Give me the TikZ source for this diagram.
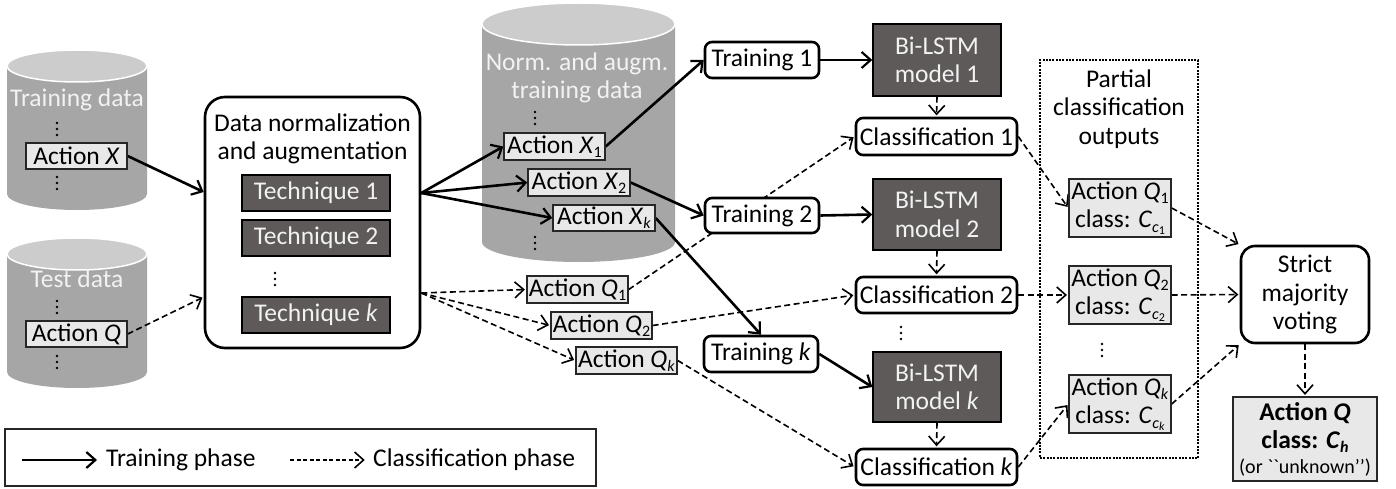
\documentclass[tikz,border=0pt]{standalone}
\usepackage{fontspec}
\setmainfont{Carlito}
\newfontfamily\rawfont{Carlito}
\usetikzlibrary{arrows.meta}
\definecolor{cylbody}{RGB}{166,166,166}
\definecolor{cyltop}{RGB}{204,204,204}
\definecolor{darkfill}{RGB}{94,90,90}
\definecolor{lightfill}{RGB}{232,232,232}
\definecolor{softwhite}{RGB}{242,242,242}
\newcommand\sbs[1]{\raisebox{-0.35ex}{\fontsize{16}{16}\selectfont #1}}
\newcommand\ssbs[1]{\raisebox{-0.3ex}{\fontsize{12}{12}\selectfont #1}}
\pgfdeclarelayer{edgelayer}
\pgfdeclarelayer{cyllayer}
\pgfsetlayers{cyllayer,edgelayer,main}
\tikzset{
  every node/.style={font=\fontsize{25.5}{28.5}\selectfont, inner sep=0pt},
  rbox/.style={draw=black, line width=2.6pt, fill=white, rounded corners=7pt, align=center},
  dbox/.style={draw=black, line width=1.4pt, fill=darkfill, text=softwhite, align=center},
  lbox/.style={draw=black!85, line width=1.4pt, fill=lightfill, align=center},
  cyltext/.style={text=softwhite, align=center},
  train/.style={line width=2.6pt, -{Straight Barb[length=9pt,width=16pt,line width=2.2pt]}},
  cls/.style={line width=1.6pt, dash pattern=on 6pt off 3.5pt, -{Straight Barb[length=9pt,width=16pt,line width=1.6pt,sep]}},
}
\newcommand\vd[2]{\foreach \dy in {-6,0,6} \fill (#1,#2+\dy) circle (1.4pt);}
\begin{document}
\begin{tikzpicture}[x=1pt,y=-1pt]
\useasboundingbox (0,0) rectangle (1396,489);

% ---------- cylinders ----------
\begin{pgfonlayer}{cyllayer}
\fill[cylbody] (7,66) -- (7,194) arc[start angle=180,end angle=360,x radius=70pt,y radius=16pt] -- (147,66) -- cycle;
\fill[cyltop, draw=white, line width=1.5pt] (77,66) ellipse[x radius=70pt,y radius=16pt];
\fill[cylbody] (7,254) -- (7,372) arc[start angle=180,end angle=360,x radius=70pt,y radius=16pt] -- (147,254) -- cycle;
\fill[cyltop, draw=white, line width=1.5pt] (77,254) ellipse[x radius=70pt,y radius=16pt];
\fill[cylbody] (482,24) -- (482,242) arc[start angle=180,end angle=360,x radius=96.5pt,y radius=20pt] -- (675,24) -- cycle;
\fill[cyltop, draw=white, line width=1.5pt] (578.5,24) ellipse[x radius=96.5pt,y radius=21pt];
\end{pgfonlayer}

\node[cyltext] (ctrain) at (77,100) {Training data};
\node[cyltext] (ctest) at (77,279) {Test data};
\node[cyltext] (cnorm) at (577,78) {Norm. and augm.\\training data};
\vd{57}{129}\vd{57}{183}\vd{57}{307}\vd{57}{362}
\vd{535}{118}\vd{535}{243}

% ---------- left ----------
\node[lbox, minimum width=101pt, minimum height=26pt] (ax) at (76.5,156) {Action \textit{X}};
\node[lbox, minimum width=101pt, minimum height=26pt] (aq) at (76.5,334) {Action \textit{Q}};

\node[rbox, rounded corners=20pt, minimum width=215pt, minimum height=251pt] (dn) at (312.5,222.5) {};
\node (dntitle) at (312.5,139) [align=center] {Data normalization\\and augmentation};
\node[dbox, minimum width=148pt, minimum height=36pt] (t1) at (316,193) {Technique 1};
\node[dbox, minimum width=148pt, minimum height=36pt] (t2) at (316,238) {Technique 2};
\node[dbox, minimum width=148pt, minimum height=36pt] (tk) at (316,315) {Technique \textit{k}};
\vd{275}{279}

% ---------- augmented ----------
\node[lbox, minimum width=101pt, minimum height=27pt] (x1) at (554.5,146.5) {Action \textit{X}\sbs{1}};
\node[lbox, minimum width=102pt, minimum height=27pt] (x2) at (579,182.5) {Action \textit{X}\sbs{2}};
\node[lbox, minimum width=102pt, minimum height=26pt] (xk) at (604,218) {Action \textit{X}\sbs{\textit{k}}};
\node[lbox, minimum width=101pt, minimum height=27pt] (q1) at (577.5,289.5) {Action \textit{Q}\sbs{1}};
\node[lbox, minimum width=101pt, minimum height=27pt] (q2) at (601.5,325.5) {Action \textit{Q}\sbs{2}};
\node[lbox, minimum width=101pt, minimum height=27pt] (qk) at (626.5,360.5) {Action \textit{Q}\sbs{\textit{k}}};

% ---------- training ----------
\node[rbox, minimum width=114pt, minimum height=36pt] (tr1) at (762,60) {Training 1};
\node[rbox, minimum width=114pt, minimum height=35pt] (tr2) at (762,215.5) {Training 2};
\node[rbox, minimum width=114pt, minimum height=36pt] (trk) at (761,354) {Training \textit{k}};

\node[dbox, minimum width=128pt, minimum height=72pt] (bl1) at (937,60) {Bi-LSTM\\model 1};
\node[dbox, minimum width=128pt, minimum height=71pt] (bl2) at (937,214.5) {Bi-LSTM\\model 2};
\node[dbox, minimum width=128pt, minimum height=70pt] (blk) at (937,387) {Bi-LSTM\\model \textit{k}};

\node[rbox, minimum width=161pt, minimum height=37pt] (c1) at (936.5,136.5) {Classification 1};
\node[rbox, minimum width=161pt, minimum height=36pt] (c2) at (936.5,295) {Classification 2};
\node[rbox, minimum width=161pt, minimum height=36pt] (ck) at (936.5,467) {Classification \textit{k}};
\vd{901}{333}

% ---------- partial outputs ----------
\node[draw=black, line width=2pt, dash pattern=on 2pt off 1.3pt, minimum width=158pt, minimum height=398pt] (part) at (1119,259) {};
\node (parttitle) at (1119,109) [align=center] {Partial\\classification\\outputs};
\node[lbox, minimum width=102pt, minimum height=58pt] (o1) at (1120,208) {Action \textit{Q}\sbs{1}\\class: \textit{C}\sbs{\textit{c}\ssbs{1}}};
\node[lbox, minimum width=102pt, minimum height=58pt] (o2) at (1120,295) {Action \textit{Q}\sbs{2}\\class: \textit{C}\sbs{\textit{c}\ssbs{2}}};
\node[lbox, minimum width=102pt, minimum height=58pt] (ok) at (1120,404) {Action \textit{Q}\sbs{\textit{k}}\\class: \textit{C}\sbs{\textit{c}\ssbs{\textit{k}}}};
\vd{1102}{350}

\node[rbox, rounded corners=14pt, minimum width=128pt, minimum height=97pt] (vote) at (1305,294.5) {Strict\\majority\\voting};
\node[lbox, minimum width=144pt, minimum height=84pt] (fin) at (1305,439) {\bfseries Action \textit{Q}\\\bfseries class: \textit{C}\sbs{\textit{h}}\\[-4pt]{\rawfont\fontsize{20}{22}\selectfont (or ``unknown’’)}};

% ---------- legend ----------
\node[draw=black!85, line width=1.4pt, minimum width=591pt, minimum height=57pt] (leg) at (300.5,457.5) {};
\coordinate (l1a) at (22,460);
\coordinate (l1b) at (97,460);
\node[anchor=west] (ltr) at (106,460) {Training phase};
\coordinate (l2a) at (290,460);
\coordinate (l2b) at (366,460);
\node[anchor=west] (lcl) at (373,460) {Classification phase};

% ---------- edges ----------
\begin{pgfonlayer}{edgelayer}
\draw[train] (ax.east) -- (dn.west |- 0,192);
\draw[cls] (aq.east) -- (dn.west |- 0,297);
\draw[train] (dn.east |- t1) -- (x1.west);
\draw[train] (dn.east |- t1) -- (x2.west);
\draw[train] (dn.east |- t1) -- (xk.west);
\draw[cls] (dn.east |- 0,293) -- (q1.west);
\draw[cls] (dn.east |- 0,293) -- (q2.west);
\draw[cls] (dn.east |- 0,293) -- (qk.west);
\draw[train] (x1.east) -- (tr1.west);
\draw[train] (x2.east) -- (tr2.west);
\draw[train] (xk.east) -- (trk.north);
\draw[train] (tr1.east) -- (bl1.west);
\draw[train] (tr2.east) -- (bl2.west);
\draw[train] (trk.east) -- (blk.west);
\draw[cls] (q1.east) -- (c1.west);
\draw[cls] (q2.east) -- (c2.west);
\draw[cls] (qk.east) -- (ck.west);
\draw[cls] (bl1.south) -- (c1.north);
\draw[cls] (bl2.south) -- (c2.north);
\draw[cls] (blk.south) -- (ck.north);
\draw[cls] (c1.east) -- (o1.west);
\draw[cls] (c2.east) -- (o2.west);
\draw[cls] (ck.east) -- (ok.west);
\draw[cls] (o1.east) -- (vote.north west);
\draw[cls] (o2.east) -- (vote.west);
\draw[cls] (ok.east) -- (vote.south west);
\draw[cls] (vote.south) -- (fin.north);
\draw[train] (l1a) -- (l1b);
\draw[cls, line width=1.2pt, dash pattern=on 4pt off 2.5pt] (l2a) -- (l2b);
\end{pgfonlayer}
\end{tikzpicture}
\end{document}
